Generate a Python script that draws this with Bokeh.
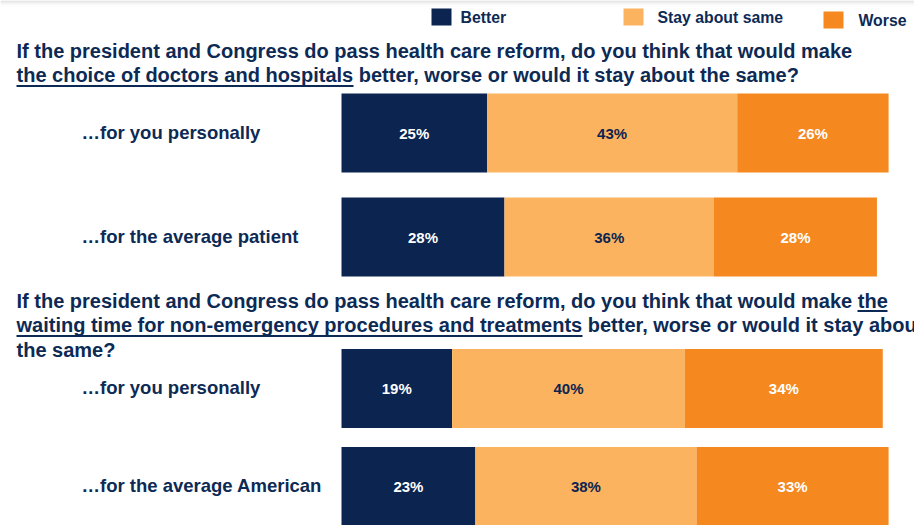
import numpy as np
from bokeh.plotting import figure
from bokeh.models import ColumnDataSource, Range1d
from bokeh.core.properties import value
from bokeh.embed import file_html
from bokeh.resources import INLINE

# ---------------- data ----------------
series = ["Better", "Stay about same", "Worse"]
row_labels = ["\u2026for you personally", "\u2026for the average patient",
              "\u2026for you personally", "\u2026for the average American"]
better = [25, 28, 19, 23]
same = [43, 36, 40, 38]
worse = [26, 28, 34, 33]

q1_lines = ["If the president and Congress do pass health care reform, do you think that would make",
            "the choice of doctors and hospitals better, worse or would it stay about the same?"]
q2_lines = ["If the president and Congress do pass health care reform, do you think that would make the",
            "waiting time for non-emergency procedures and treatments better, worse or would it stay about",
            "the same?"]

# ---------------- style / layout ----------------
NAVY = "#0b2450"
LIGHT = "#fbb360"
ORANGE = "#f5881f"
TEXT = "#0d2a55"
colors = [NAVY, LIGHT, ORANGE]
label_colors = ["white", NAVY, "white"]
FONT = value("Liberation Sans")

W, H = 914, 525
BAR_X0 = 341                  # screen x where 0% sits
PX_PER_PCT = 5.82
row_y = [132.5, 236.5, 388, 486]  # screen y of bar centres
BAR_H = 79
BASE_K = 0.36                 # rendered baseline offset (em)

x_start = -BAR_X0 / PX_PER_PCT
x_end = (W - BAR_X0) / PX_PER_PCT

p = figure(width=W, height=H, output_backend="svg", toolbar_location=None,
           x_range=Range1d(x_start, x_end), y_range=Range1d(H, 0),
           x_axis_location=None, y_axis_location=None, min_border=0,
           background_fill_color="white", border_fill_color="white")
p.extra_x_ranges = {"px": Range1d(0, W)}
p.grid.visible = False
p.outline_line_color = None

# faint top shadow
shade = ["#d9d9d9", "#e2e2e2", "#ebebeb", "#f3f3f3", "#f9f9f9"]
p.segment(x0=[0] * 5, x1=[W] * 5, y0=[0.5, 1.5, 2.5, 3.5, 4.5],
          y1=[0.5, 1.5, 2.5, 3.5, 4.5], x_range_name="px",
          line_color=shade, line_width=1)

src = ColumnDataSource(dict(y=row_y, better=better, same=same, worse=worse))
p.hbar_stack(["better", "same", "worse"], y="y", height=BAR_H, color=colors,
             line_color=None, source=src)


def txt(x, y, text, size, color=TEXT, align="left", xr="px"):
    kw = dict(x_range_name=xr) if xr else {}
    p.text(x=x, y=[yy - BASE_K * size for yy in y], text=text,
           text_align=align, text_baseline="alphabetic",
           text_font=FONT, text_font_style="bold", text_font_size=f"{size}px",
           text_color=color, **kw)


# value labels centred in each segment
vals = np.array([better, same, worse], dtype=float)
lefts = np.cumsum(vals, axis=0) - vals
mids = lefts + vals / 2
for i in range(3):
    txt(list(mids[i]), [yy + 5.4 for yy in row_y],
        [f"{int(v)}%" for v in vals[i]], 15, color=label_colors[i],
        align="center", xr=None)

# row labels
txt([81] * 4, [yy + 6 for yy in row_y], row_labels, 18.5)

# questions
txt([16] * 2, [58, 82], q1_lines, 20)
txt([16] * 3, [308, 332, 357], q2_lines, 20)
# underlines
p.segment(x0=[16, 857, 16], x1=[353, 887, 582], y0=[85.5, 310.5, 335.5],
          y1=[85.5, 310.5, 335.5], x_range_name="px", line_color=TEXT, line_width=2)

# legend
leg_x = [441, 633, 833]
leg_y = [16.5, 16.5, 19.5]
leg_tx = [460, 657, 858]
p.rect(x=leg_x, y=leg_y, width=20, height=17, x_range_name="px",
       width_units="screen", height_units="screen", fill_color=colors, line_color=None)
txt(leg_tx, [ly + 6 for ly in leg_y], series, 15.8)

open("out.html", "w").write(file_html(p, INLINE))
